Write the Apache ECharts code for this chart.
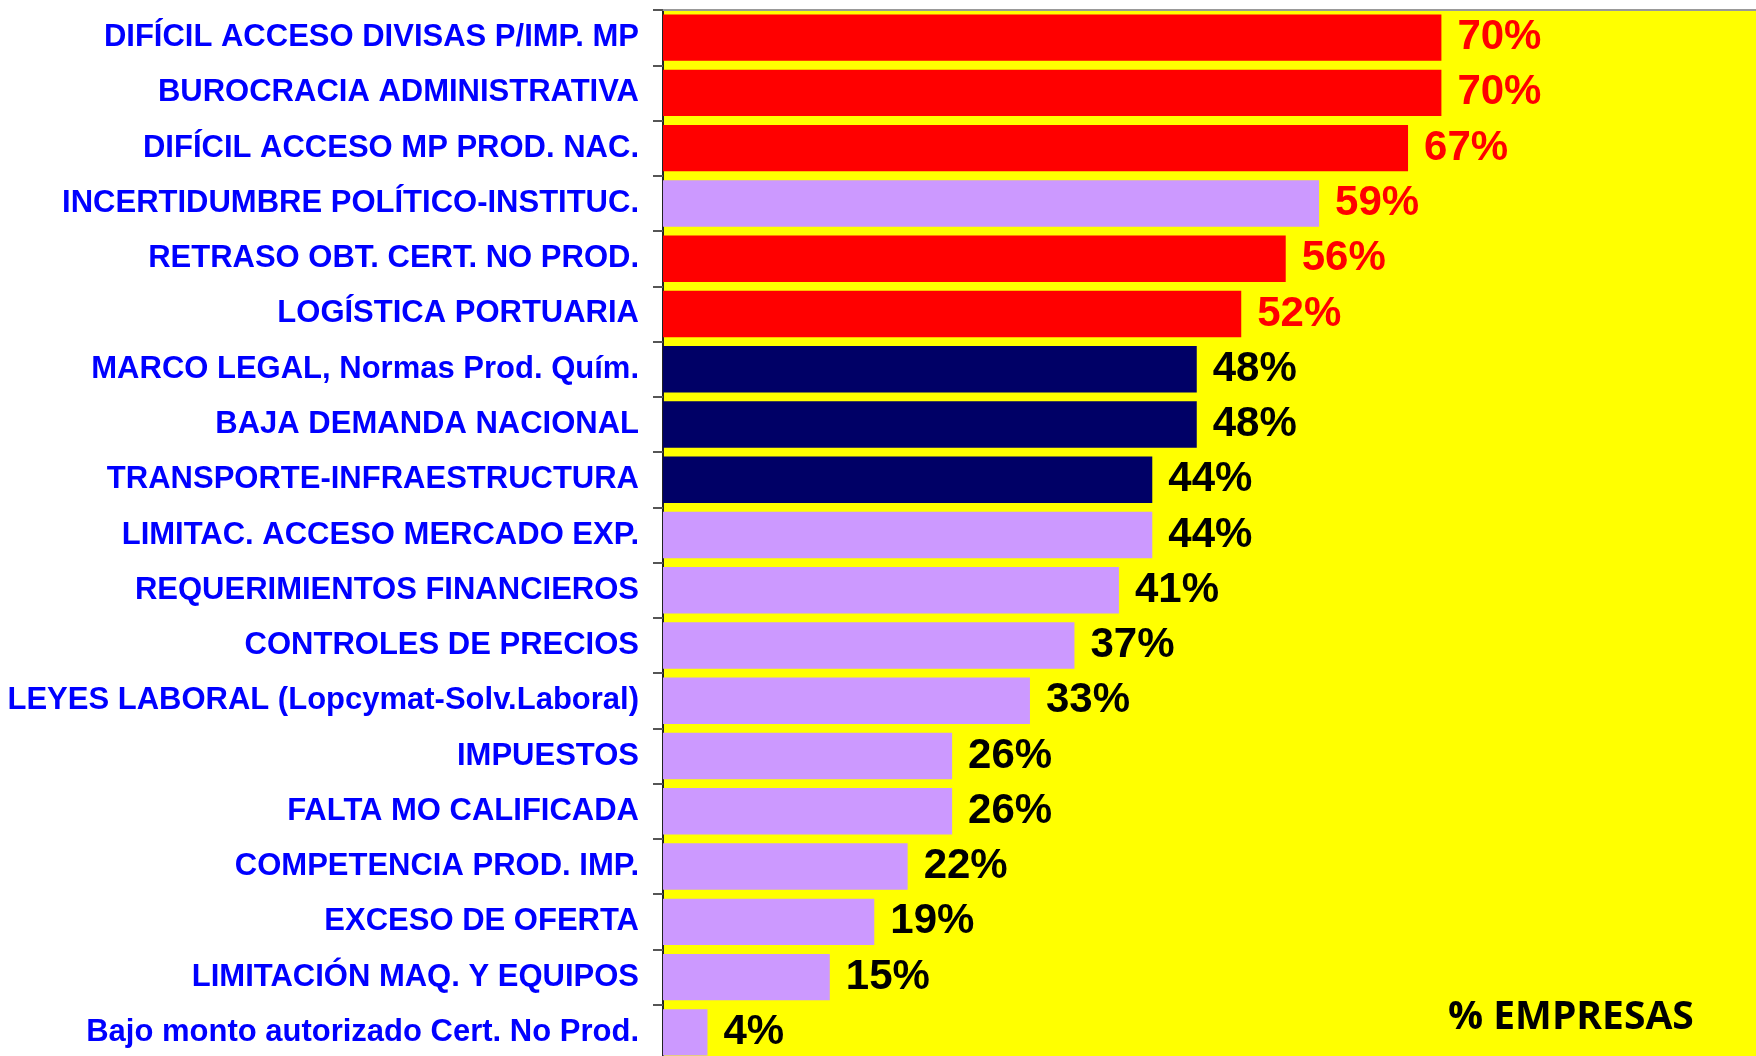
<!DOCTYPE html>
<html>
<head>
<meta charset="utf-8">
<title>Limitaciones - % empresas</title>
<script src="https://cdn.jsdelivr.net/npm/echarts@6/dist/echarts.min.js"></script>
<style>
  html, body { margin: 0; padding: 0; background: #fff; }
  #grafico { width: 1756px; height: 1056px; }
</style>
</head>
<body>
<div id="grafico"></div>
<script>
// categorias de arriba hacia abajo
var categorias = [
  "DIFÍCIL ACCESO DIVISAS P/IMP. MP",
  "BUROCRACIA ADMINISTRATIVA",
  "DIFÍCIL ACCESO MP PROD. NAC.",
  "INCERTIDUMBRE POLÍTICO-INSTITUC.",
  "RETRASO OBT. CERT. NO PROD.",
  "LOGÍSTICA PORTUARIA",
  "MARCO LEGAL, Normas Prod. Quím.",
  "BAJA DEMANDA NACIONAL",
  "TRANSPORTE-INFRAESTRUCTURA",
  "LIMITAC. ACCESO MERCADO EXP.",
  "REQUERIMIENTOS FINANCIEROS",
  "CONTROLES DE PRECIOS",
  "LEYES LABORAL (Lopcymat-Solv.Laboral)",
  "IMPUESTOS",
  "FALTA MO CALIFICADA",
  "COMPETENCIA PROD. IMP.",
  "EXCESO DE OFERTA",
  "LIMITACIÓN MAQ. Y EQUIPOS",
  "Bajo monto autorizado Cert. No Prod."
];
var porcentajes = [70, 70, 67, 59, 56, 52, 48, 48, 44, 44, 41, 37, 33, 26, 26, 22, 19, 15, 4];
var grupoBarra = ["rojo", "rojo", "rojo", "lila", "rojo", "rojo", "azul", "azul", "azul", "lila",
  "lila", "lila", "lila", "lila", "lila", "lila", "lila", "lila", "lila"];
var grupoEtiqueta = ["rojo", "rojo", "rojo", "rojo", "rojo", "rojo", "negro", "negro", "negro", "negro",
  "negro", "negro", "negro", "negro", "negro", "negro", "negro", "negro", "negro"];
var tituloEje = "% EMPRESAS";

var coloresBarra = { rojo: "#ff0000", lila: "#cc99ff", azul: "#000066" };
var coloresEtiqueta = { rojo: "#ff0000", negro: "#000000" };

var chart = echarts.init(document.getElementById("grafico"));

var datos = porcentajes.map(function (v, i) {
  return {
    value: v,
    itemStyle: { color: coloresBarra[grupoBarra[i]] },
    label: { color: coloresEtiqueta[grupoEtiqueta[i]] }
  };
});

chart.setOption({
  animation: false,
  backgroundColor: "#ffffff",
  grid: {
    left: 663,
    top: 10,
    width: 1112,
    height: 1050,
    show: true,
    backgroundColor: "#ffff00",
    borderWidth: 0,
    outerBoundsMode: "none"
  },
  xAxis: {
    type: "value",
    position: "top",
    min: 0,
    max: 100,
    axisLine: { show: true, lineStyle: { color: "#999999", width: 2 } },
    axisTick: { show: false },
    axisLabel: { show: false },
    splitLine: { show: false }
  },
  yAxis: {
    type: "category",
    inverse: true,
    data: categorias,
    axisLine: { show: true, lineStyle: { color: "#222222", width: 2 } },
    axisTick: { show: true, length: 10, lineStyle: { color: "#555555", width: 2 } },
    axisLabel: {
      margin: 24,
      color: "#0000ff",
      fontFamily: "'Liberation Sans', Arial, sans-serif",
      fontWeight: "bold",
      fontSize: 31
    }
  },
  series: [{
    type: "bar",
    data: datos,
    barCategoryGap: "16%",
    label: {
      show: true,
      position: "right",
      distance: 16,
      formatter: "{c}%",
      fontFamily: "'Liberation Sans', Arial, sans-serif",
      fontWeight: "bold",
      fontSize: 42
    }
  }],
  graphic: [{
    type: "text",
    left: 1448,
    top: 998,
    style: {
      text: tituloEje,
      fill: "#000000",
      font: "bold 39px 'Open Sans', sans-serif"
    }
  }]
});
</script>
</body>
</html>
